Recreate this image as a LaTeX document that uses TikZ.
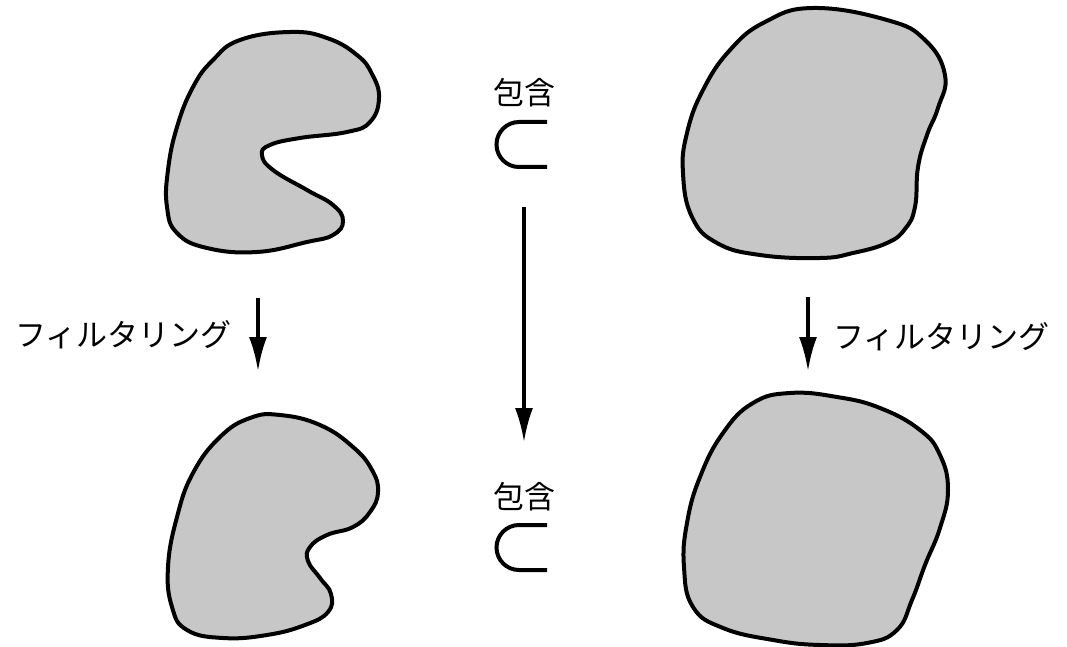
\documentclass[tikz,border=0pt]{standalone}
\usepackage{fontspec}
\setmainfont{Noto Sans CJK JP}
\usetikzlibrary{arrows.meta}

\begin{document}
\begin{tikzpicture}[x=0.5pt,y=-0.5pt,
  region/.style={draw,line width=2pt,fill=black!22},
  label/.style={inner sep=0pt,font=\fontsize{15.5pt}{18pt}\selectfont},
  flow/.style={-{Latex[length=17pt,width=9pt]},line width=1.7pt}]
  \useasboundingbox (0,0) rectangle (1067,647);

  % original sets
  \draw[region] plot[smooth cycle,tension=0.75] coordinates {
    (290,32) (327,38) (357,55) (372,74) (379,98) (370,122) (347,132) (300,138)
    (270,145) (262,155) (273,170) (307,190) (333,205) (343,221) (333,235) (307,242)
    (257,252) (207,248) (177,233) (167,207) (168,170) (177,127) (193,87) (213,60) (240,40)};
  \draw[region] plot[smooth cycle,tension=0.75] coordinates {
    (813,8) (887,20) (925,40) (945,75) (938,108) (927,135) (918,167)
    (915,207) (905,229) (887,243) (853,253) (820,258) (760,255) (717,243) (692,217)
    (683,173) (687,133) (703,90) (730,50) (765,22)};

  % filtered sets
  \draw[region] plot[smooth cycle,tension=0.75] coordinates {
    (280,415) (320,425) (353,447) (372,470) (378,492) (370,512) (353,527) (327,535)
    (310,547) (308,561) (320,578) (331,594) (328,612) (305,625) (267,635) (223,638)
    (187,630) (172,607) (168,567) (177,517) (193,473) (220,437) (250,418)};
  \draw[region] plot[smooth cycle,tension=0.75] coordinates {
    (790,393) (837,397) (880,408) (920,430) (940,455) (948,490) (940,528)
    (925,565) (912,600) (897,630) (867,643) (820,645) (773,640) (723,628) (693,607) (684,567)
    (687,523) (700,477) (723,433) (753,403)};

  \node[label,anchor=east] (filtL) at (232,335) {フィルタリング};
  \node[label,anchor=west] (filtR) at (833,337) {フィルタリング};
  \node[label] (inclT) at (524,93) {包含};
  \node[label] (inclB) at (524,497) {包含};

  \coordinate (lTop) at (258,298);
  \coordinate (lBot) at (258,371);
  \coordinate (rTop) at (808,297);
  \coordinate (rBot) at (808,371);
  \coordinate (cTop) at (524,207);
  \coordinate (cBot) at (524,442);
  \draw[flow] (lTop) -- (lBot);
  \draw[flow] (rTop) -- (rBot);
  \draw[flow] (cTop) -- (cBot);

  % subset signs
  \draw[line width=2pt] (547,122) -- (519,122) arc[start angle=270,end angle=90,radius=22.5] -- (547,167);
  \draw[line width=2pt] (547,525) -- (519,525) arc[start angle=270,end angle=90,radius=22.5] -- (547,570);
\end{tikzpicture}
\end{document}
